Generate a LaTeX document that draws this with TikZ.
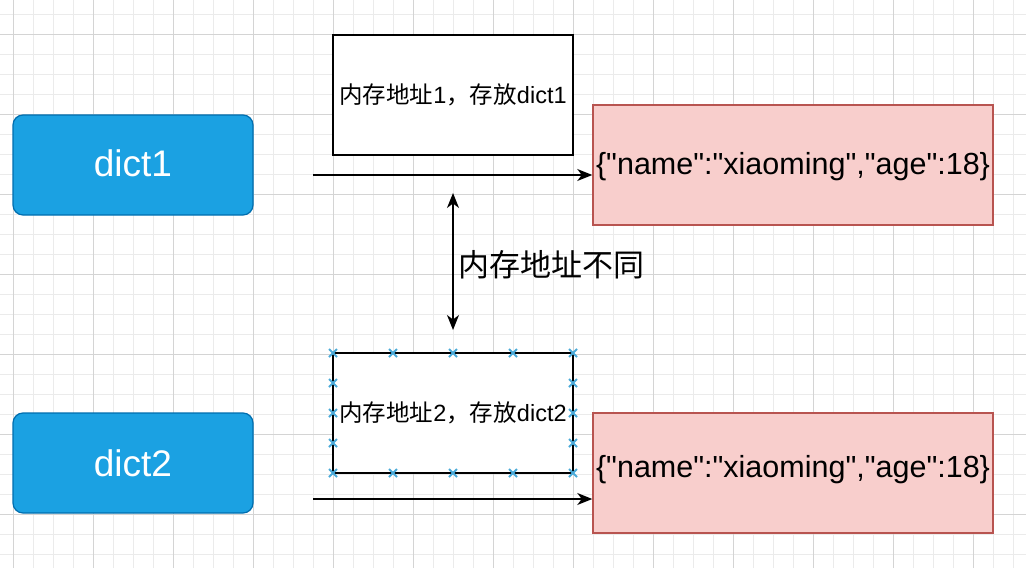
\documentclass[tikz,border=0pt]{standalone}
\usepackage{fontspec}
\setmainfont{Liberation Sans}[Ligatures=TeXOff]
\newfontfamily\cjk{Noto Sans CJK SC}
\usetikzlibrary{arrows.meta}
\definecolor{dictfill}{HTML}{1BA1E2}
\definecolor{dictline}{HTML}{006EAF}
\definecolor{valfill}{HTML}{F8CECC}
\definecolor{valline}{HTML}{B85450}
\definecolor{gridminor}{HTML}{EBEBEB}
\definecolor{gridmajor}{HTML}{D4D4D4}
\definecolor{handle}{HTML}{4AAAD9}
\tikzset{
  dictbox/.style={draw=dictline, fill=dictfill, line width=1.2pt, rounded corners=10pt,
    minimum width=240pt, minimum height=100pt, inner sep=0pt, text=white,
    text height=27pt, text depth=0pt,
    font=\fontsize{37}{40}\selectfont},
  addrbox/.style={draw=black, fill=white, line width=1.5pt, minimum width=240pt,
    minimum height=120pt, inner sep=0pt, font=\fontsize{23.5}{26}\selectfont},
  valbox/.style={draw=valline, fill=valfill, line width=1.5pt, minimum width=400pt,
    minimum height=120pt, inner sep=0pt, text height=22pt, text depth=7pt,
    font=\fontsize{30.5}{34}\selectfont},
  tip/.tip={Stealth[length=15pt,width=12pt,inset=4.5pt]},
  conn/.style={line width=1.6pt, -tip},
  dconn/.style={line width=1.6pt, tip-tip},
  lbl/.style={inner sep=0pt, font=\cjk\fontsize{31}{36}\selectfont},
  hmark/.style={draw=handle, line width=1.8pt}
}
\begin{document}
\begin{tikzpicture}[x=1pt,y=-1pt]
\useasboundingbox (0,0) rectangle (1026,568);
\fill[white] (0,0) rectangle (1026,568);
% grid
\begin{scope}
\clip (0,0) rectangle (1026,568);
\foreach \i in {0,...,51} {
  \draw[gridminor, line width=0.8pt] ({-7+20*\i},0) -- ({-7+20*\i},568);
}
\foreach \i in {0,...,28} {
  \draw[gridminor, line width=0.8pt] (0,{-6+20*\i}) -- (1026,{-6+20*\i});
}
\foreach \i in {0,...,12} {
  \draw[gridmajor, line width=0.8pt] ({13+80*\i},0) -- ({13+80*\i},568);
}
\foreach \i in {0,...,7} {
  \draw[gridmajor, line width=0.8pt] (0,{34+80*\i}) -- (1026,{34+80*\i});
}
\end{scope}
% nodes
\node[dictbox] (d1) at (133,165) {\raisebox{2pt}{dict1}};
\node[dictbox] (d2) at (133,463) {dict2};
\node[addrbox] (a1) at (453,95) {{\cjk 内存地址}1{\cjk ，存放}dict1};
\node[addrbox] (a2) at (453,413) {{\cjk 内存地址}2{\cjk ，存放}dict2};
\node[valbox] (v1) at (793,165) {\raisebox{-1.5pt}{\{"name":"xiaoming","age":18\}}};
\node[valbox] (v2) at (793,473) {\raisebox{3pt}{\{"name":"xiaoming","age":18\}}};
% connectors
\coordinate (s1) at (313,175);
\coordinate (s2) at (313,499);
\draw[conn] (s1) -- (s1 -| v1.west);
\draw[conn] (s2) -- (s2 -| v2.west);
\coordinate (u1) at (453,193);
\coordinate (u2) at (453,330);
\draw[dconn] (u1) -- (u2);
\node[lbl, anchor=west] (diff) at (458,265) {内存地址不同};
% selection handles
\foreach \x in {333,393,453,513,573} {
  \draw[hmark] (\x-4,349) -- (\x+4,357) (\x-4,357) -- (\x+4,349);
  \draw[hmark] (\x-4,469) -- (\x+4,477) (\x-4,477) -- (\x+4,469);
}
\foreach \y in {383,413,443} {
  \draw[hmark] (329,\y-4) -- (337,\y+4) (329,\y+4) -- (337,\y-4);
  \draw[hmark] (569,\y-4) -- (577,\y+4) (569,\y+4) -- (577,\y-4);
}
\end{tikzpicture}
\end{document}
